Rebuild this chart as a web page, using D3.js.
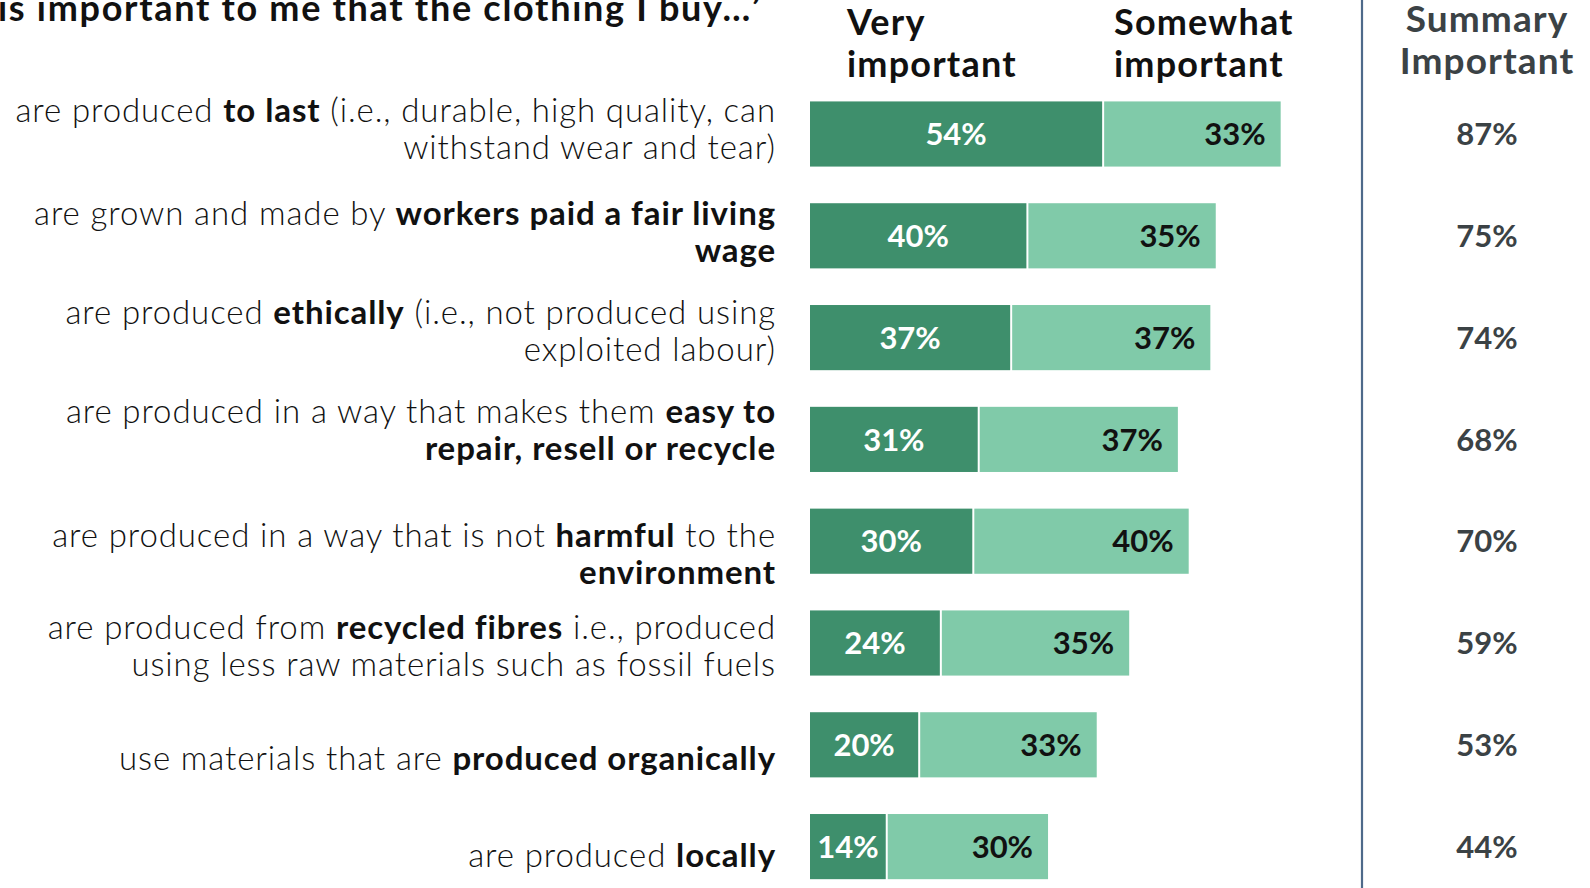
<!DOCTYPE html>
<html>
<head>
<meta charset="utf-8">
<script src="https://cdn.jsdelivr.net/npm/d3@7/dist/d3.min.js"></script>
<style>
  html, body { margin: 0; padding: 0; background: #fff; }
  svg { display: block; }
</style>
</head>
<body>
<svg id="chart" width="1590" height="888"></svg>
<script>
// Statements (bold phrases wrapped in **), one entry per line of text
const statements = [
  ["are produced **to last** (i.e., durable, high quality, can", "withstand wear and tear)"],
  ["are grown and made by **workers paid a fair living**", "**wage**"],
  ["are produced **ethically** (i.e., not produced using", "exploited labour)"],
  ["are produced in a way that makes them **easy to**", "**repair, resell or recycle**"],
  ["are produced in a way that is not **harmful** to the", "**environment**"],
  ["are produced from **recycled fibres** i.e., produced", "using less raw materials such as fossil fuels"],
  ["use materials that are **produced organically**"],
  ["are produced **locally**"]
];
const veryImportant     = [54, 40, 37, 31, 30, 24, 20, 14];
const somewhatImportant = [33, 35, 37, 37, 40, 35, 33, 30];
const summaryImportant  = [87, 75, 74, 68, 70, 59, 53, 44];
const seriesNames = [["Very", "important"], ["Somewhat", "important"]];
const summaryTitle = ["Summary", "Important"];
const titleText = "is important to me that the clothing I buy…’";

// Layout
const W = 1590, H = 888;
const barLeft = 810, pxPerPct = 5.41;
const labelRight = 776;
const dividerX = 1362, summaryX = 1487;
const labelNudge = [-5, -4, -7, -9, 13, 3, 14, 9]; // vertical tweak of statement blocks
const lineGap = 37;

const darkGreen = "#3e8f6c", lightGreen = "#80caa9";
const textFont = "'Lato', 'DejaVu Sans', sans-serif";

const svg = d3.select("#chart");
const rows = d3.range(statements.length);

const x = d3.scaleLinear().domain([0, 100]).range([barLeft, barLeft + 100 * pxPerPct]);
const y = d3.scaleBand().domain(rows).range([83.1, 83.1 + 8 * 101.8])
  .paddingInner(0.36).paddingOuter(0.18);

// Title (top line of the question, running off the top edge)
svg.append("text")
  .attr("x", -2).attr("y", 21)
  .attr("font-family", textFont).attr("font-weight", 700)
  .attr("font-size", 36).attr("letter-spacing", 1.7).attr("fill", "#111")
  .text(titleText);

// Series headers
const headerX = [847, 1114];
seriesNames.forEach((lines, i) => {
  const t = svg.append("text")
    .attr("font-family", textFont).attr("font-weight", 700)
    .attr("font-size", 36).attr("letter-spacing", 1.2).attr("fill", "#111");
  lines.forEach((ln, j) => t.append("tspan").attr("x", headerX[i]).attr("y", 35 + j * 42).text(ln));
});

// Summary header
const sh = svg.append("text")
  .attr("font-family", textFont).attr("font-weight", 700)
  .attr("font-size", 37).attr("letter-spacing", 1.1).attr("fill", "#3b4245").attr("text-anchor", "middle");
summaryTitle.forEach((ln, j) => sh.append("tspan").attr("x", summaryX).attr("y", 32 + j * 42).text(ln));

// Divider
svg.append("line")
  .attr("x1", dividerX).attr("x2", dividerX).attr("y1", 0).attr("y2", H)
  .attr("stroke", "#4e6a8a").attr("stroke-width", 2.2);

// Statement labels
const lbl = svg.append("g").attr("font-family", textFont).attr("font-size", 33)
  .attr("letter-spacing", 0.9).attr("fill", "#111").attr("text-anchor", "end");
rows.forEach(i => {
  const lines = statements[i];
  const cy = y(i) + y.bandwidth() / 2 + labelNudge[i];
  const first = cy - (lines.length - 1) * lineGap / 2;
  lines.forEach((ln, j) => {
    const t = lbl.append("text").attr("x", labelRight).attr("y", first + j * lineGap).attr("dy", "0.35em");
    ln.split("**").forEach((part, k) => {
      if (!part) return;
      t.append("tspan").attr("font-weight", k % 2 ? 700 : 300).text(part);
    });
  });
});

// Bars
const bars = svg.append("g");
bars.selectAll("rect.very").data(rows).join("rect")
  .attr("class", "very")
  .attr("x", x(0)).attr("y", i => y(i))
  .attr("width", i => x(veryImportant[i]) - x(0))
  .attr("height", y.bandwidth()).attr("fill", darkGreen);
bars.selectAll("rect.some").data(rows).join("rect")
  .attr("class", "some")
  .attr("x", i => x(veryImportant[i]) + 2).attr("y", i => y(i))
  .attr("width", i => x(veryImportant[i] + somewhatImportant[i]) - x(veryImportant[i]) - 2)
  .attr("height", y.bandwidth()).attr("fill", lightGreen);

// Value labels
const vl = svg.append("g").attr("font-family", textFont).attr("font-weight", 700).attr("font-size", 31);
vl.selectAll("text.very").data(rows).join("text")
  .attr("x", i => (x(0) + x(veryImportant[i])) / 2)
  .attr("y", i => y(i) + y.bandwidth() / 2).attr("dy", "0.36em")
  .attr("text-anchor", "middle").attr("fill", "#fff")
  .text(i => veryImportant[i] + "%");
vl.selectAll("text.some").data(rows).join("text")
  .attr("x", i => x(veryImportant[i] + somewhatImportant[i]) - 15)
  .attr("y", i => y(i) + y.bandwidth() / 2).attr("dy", "0.36em")
  .attr("text-anchor", "end").attr("fill", "#111")
  .text(i => somewhatImportant[i] + "%");

// Summary values
vl.selectAll("text.sum").data(rows).join("text")
  .attr("x", summaryX)
  .attr("y", i => y(i) + y.bandwidth() / 2).attr("dy", "0.36em")
  .attr("text-anchor", "middle").attr("fill", "#3b4245")
  .text(i => summaryImportant[i] + "%");
</script>
</body>
</html>
